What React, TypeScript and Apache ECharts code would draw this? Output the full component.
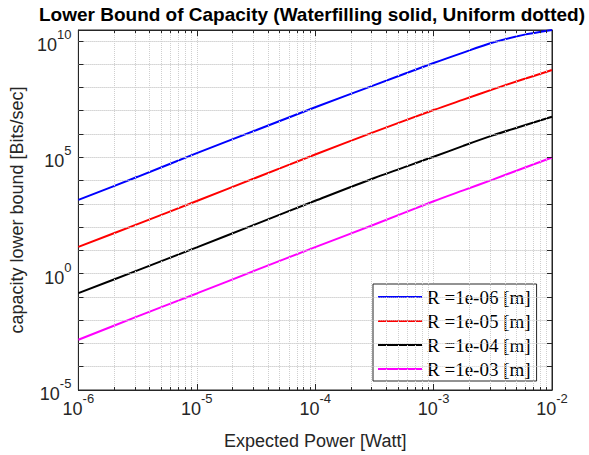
import React, { useEffect, useRef } from "react";
import * as echarts from "echarts";

// Expected power (x) sample points [Watt]
const xValues = [1e-6, 3.16e-6, 1e-5, 3.16e-5, 1e-4, 3.16e-4, 1e-3, 1.78e-3, 3.16e-3, 5.62e-3, 1e-2];

// Capacity lower bound [Bits/sec]
const r1e06 = [1.48e3, 1.45e4, 1.51e5, 1.45e6, 1.41e7, 1.26e8, 1.12e9, 3.16e9, 8.5e9, 1.78e10, 2.95e10];
const r1e05 = [14.1, 135, 1.32e3, 1.32e4, 1.32e5, 1.23e6, 1.07e7, 3.0e7, 8.3e7, 2.19e8, 5.6e8];
const r1e04 = [0.145, 1.38, 13.5, 135, 1.35e3, 1.29e4, 1.05e5, 3.1e5, 8.7e5, 2.2e6, 5.5e6];
const r1e03 = [1.45e-3, 1.45e-2, 0.141, 1.41, 13.8, 129, 1.29e3, 3.8e3, 1.1e4, 3.3e4, 9.8e4];

const seriesNames = ["R =1e-06 [m]", "R =1e-05 [m]", "R =1e-04 [m]", "R =1e-03 [m]"];
const seriesColors = ["#0000ff", "#ff0000", "#000000", "#ff00ff"];
const seriesValues = [r1e06, r1e05, r1e04, r1e03];

// axis ranges
const xMin = 1e-6;
const xMax = 1e-2;
const yMin = 1e-5;
const yMax = 2.95e10;
const yLabelExponents = [-5, 0, 5, 10];
const yGridDecades = [1e-4, 1e-3, 1e-2, 1e-1, 1e0, 1e1, 1e2, 1e3, 1e4, 1e5, 1e6, 1e7, 1e8, 1e9, 1e10];

// minor x grid (2..9 within each decade)
const xDecades = [1e-6, 1e-5, 1e-4, 1e-3];
const minorMultipliers = [2, 3, 4, 5, 6, 7, 8, 9];

const AXIS_COLOR = "#262626";
const GRID_COLOR = "#cfcfcf";
const SANS = "Liberation Sans, Arial, Helvetica, sans-serif";

// tick lengths expressed as fractions of a decade on each log axis (plot: 119 px/decade in x, 23.4 px/decade in y)
const xTickFactor = Math.pow(10, 5 / 119);
const yMinorTickFactor = Math.pow(10, 3 / 23.4);

const richLabel = {
  b: { fontSize: 18, lineHeight: 18, padding: [8, 0, 0, 0], color: AXIS_COLOR, fontFamily: SANS },
  s: { fontSize: 13, lineHeight: 13, padding: [0, 0, 13, 0], color: AXIS_COLOR, fontFamily: SANS },
};

function expOf(v: number) {
  return Math.round(Math.log10(v));
}

export default function App() {
  const ref = useRef<HTMLDivElement>(null);
  useEffect(() => {
    if (!ref.current) return;
    const chart = echarts.init(ref.current, undefined, { renderer: "svg" });
    const xMinor: number[] = [];
    xDecades.forEach((d) => minorMultipliers.forEach((m) => xMinor.push(d * m)));

    const series: any[] = seriesValues.map((vals, i) => ({
      name: seriesNames[i],
      type: "line",
      xAxisIndex: 0,
      yAxisIndex: 0,
      symbol: "none",
      showSymbol: false,
      smooth: 0.3,
      color: seriesColors[i],
      lineStyle: { width: 2, color: seriesColors[i] },
      data: xValues.map((x, j) => [x, vals[j]]),
      z: 3,
    }));
    const tickStyle = { type: "solid", color: AXIS_COLOR, width: 1 };
    // helper series carrying the dotted minor grid lines and the minor ticks
    series.push({
      name: "grid",
      type: "line",
      data: [],
      silent: true,
      z: 1,
      markLine: {
        silent: true,
        symbol: "none",
        animation: false,
        label: { show: false },
        lineStyle: { type: "dotted", color: GRID_COLOR, width: 1 },
        data: [
          ...xMinor.map((v) => [{ coord: [v, yMin] }, { coord: [v, yMax] }]),
          ...yGridDecades.map((v) => [{ coord: [xMin, v] }, { coord: [xMax, v] }]),
          ...xMinor.map((v) => [{ coord: [v, yMin], lineStyle: tickStyle }, { coord: [v, yMin * yMinorTickFactor] }]),
          ...xMinor.map((v) => [{ coord: [v, yMax], lineStyle: tickStyle }, { coord: [v, yMax / yMinorTickFactor] }]),
          ...yGridDecades.map((v) => [{ coord: [xMin, v], lineStyle: tickStyle }, { coord: [xMin * xTickFactor, v] }]),
          ...yGridDecades.map((v) => [{ coord: [xMax, v], lineStyle: tickStyle }, { coord: [xMax / xTickFactor, v] }]),
        ],
      },
    });

    const xLabelFmt = (v: number) => `{b|10}{s|${expOf(v)}}`;
    const yLabelFmt = (v: number) => {
      const e = expOf(v);
      if (Math.abs(Math.log10(v) - e) > 1e-6) return "";
      return yLabelExponents.indexOf(e) >= 0 ? `{b|10}{s|${e}}` : "";
    };

    const baseX = {
      type: "log",
      logBase: 10,
      min: xMin,
      max: xMax,
      axisLine: { show: true, lineStyle: { color: AXIS_COLOR, width: 1 } },
      axisTick: { show: true, inside: true, length: 6, lineStyle: { color: AXIS_COLOR } },
    };
    const baseY = {
      type: "log",
      logBase: 10,
      min: yMin,
      max: yMax,
      interval: 1,
      axisLine: { show: true, lineStyle: { color: AXIS_COLOR, width: 1 } },
      axisTick: { show: true, inside: true, length: 5, lineStyle: { color: AXIS_COLOR } },
    };

    chart.setOption({
      animation: false,
      backgroundColor: "#ffffff",
      title: {
        text: "Lower Bound of Capacity (Waterfilling solid, Uniform dotted)",
        left: 312,
        top: 5,
        padding: 0,
        textAlign: "center",
        textStyle: { fontFamily: SANS, fontSize: 19, fontWeight: "bold", color: "#000" },
      },
      grid: {
        left: 77,
        top: 30,
        right: 37,
        bottom: 62,
        show: true,
        borderColor: AXIS_COLOR,
        borderWidth: 1,
      },
      legend: {
        orient: "vertical",
        left: 373,
        top: 284,
        padding: [3, 6, 2, 5],
        itemGap: 4,
        itemWidth: 44,
        itemHeight: 2,
        icon: "rect",
        backgroundColor: "#fff",
        borderColor: AXIS_COLOR,
        borderWidth: 1,
        data: seriesNames,
        textStyle: { fontFamily: "Liberation Serif, Times New Roman, serif", fontSize: 19, lineHeight: 20, color: "#000" },
      },
      xAxis: [
        {
          ...baseX,
          position: "bottom",
          name: "Expected Power [Watt]",
          nameLocation: "middle",
          nameGap: 42,
          nameTextStyle: { fontFamily: SANS, fontSize: 18, color: AXIS_COLOR },
          axisLabel: { formatter: xLabelFmt, rich: richLabel, margin: 6 },
          splitLine: { show: true, lineStyle: { type: "dotted", color: GRID_COLOR, width: 1 } },
        },
        {
          ...baseX,
          position: "top",
          axisLabel: { show: false },
          splitLine: { show: false },
        },
      ],
      yAxis: [
        {
          ...baseY,
          position: "left",
          name: "capacity lower bound [Bits/sec]",
          nameLocation: "middle",
          nameGap: 50,
          nameTextStyle: { fontFamily: SANS, fontSize: 18, color: AXIS_COLOR },
          axisLabel: { formatter: yLabelFmt, rich: richLabel, margin: 7 },
          splitLine: { show: true, lineStyle: { type: "dotted", color: GRID_COLOR, width: 1 } },
        },
        {
          ...baseY,
          position: "right",
          axisLabel: { show: false },
          splitLine: { show: false },
        },
      ],
      series,
    });
    return () => chart.dispose();
  }, []);
  return (
    <div
      ref={ref}
      style={{ position: "fixed", left: 0, top: 0, width: 589, height: 455, background: "#fff" }}
    />
  );
}
